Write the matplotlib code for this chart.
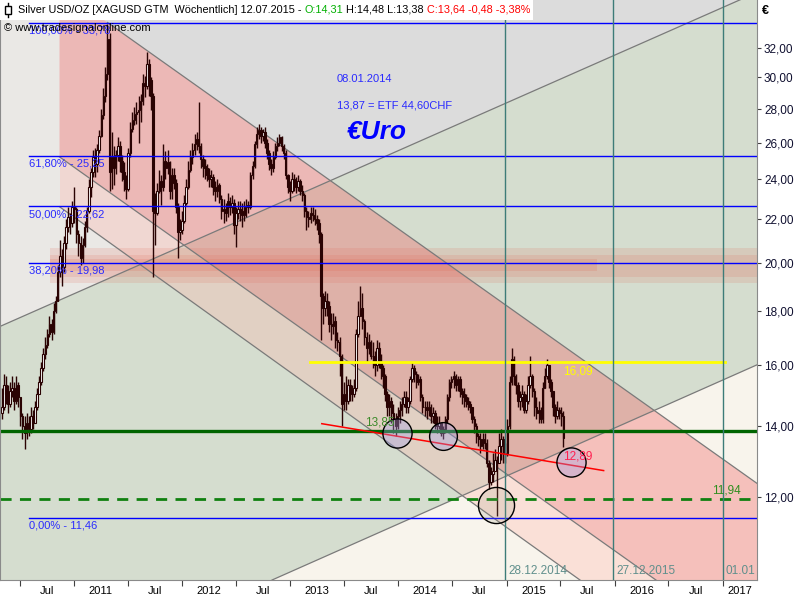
import numpy as np
import pandas as pd
import matplotlib
matplotlib.use('Agg')
import matplotlib.pyplot as plt
import matplotlib.dates as mdates
from matplotlib.patches import Rectangle
from matplotlib.lines import Line2D
from matplotlib.ticker import FuncFormatter, NullLocator, NullFormatter

plt.rcParams['font.family'] = ['Liberation Sans', 'DejaVu Sans']

# ---- weekly candles (EUR), first week 02.05.2010 ----
first_week = '2010-05-02'
first_open = 14.4

close_2010 = [14.6, 15.3, 15.0, 14.7, 15.1, 15.2, 14.8, 15.3, 14.9, 14.3, 14.0, 13.8, 14.1,
              13.9, 14.3, 14.1, 14.6, 15.0, 15.4, 15.9, 16.4, 16.7, 17.1, 17.5, 17.2, 18.0, 18.4,
              19.6, 20.3, 19.8, 20.9, 21.6, 22.1, 21.8, 22.6]
high_2010 = [15.2, 15.7, 15.6, 15.3, 15.4, 15.6, 15.4, 15.6, 15.4, 14.9, 14.4, 14.3, 14.4,
             14.3, 14.6, 14.5, 14.8, 15.2, 15.6, 16.1, 16.6, 17.0, 17.3, 17.8, 17.7, 18.3, 18.6,
             19.9, 21.0, 20.6, 21.2, 22.0, 22.6, 22.3, 22.9]
low_2010 = [14.2, 14.5, 14.7, 14.4, 14.6, 14.9, 14.5, 14.7, 14.6, 14.0, 13.6, 13.3, 13.6,
            13.7, 13.8, 13.9, 14.1, 14.5, 15.0, 15.3, 15.8, 16.2, 16.6, 17.0, 16.9, 17.1, 17.9,
            18.4, 19.4, 19.0, 19.6, 20.6, 21.4, 21.3, 21.6]

close_2011 = [22.5, 21.3, 20.9, 20.2, 20.8, 21.6, 22.4, 23.6, 24.4, 25.2, 24.8, 25.6, 26.4,
              27.6, 28.8, 30.2, 32.6, 24.4, 25.2, 24.6, 25.3, 25.8, 25.0, 24.4, 24.0, 23.5,
              25.4, 26.8, 27.3, 27.7, 27.8, 27.9, 28.5, 29.6, 29.4, 30.9, 29.8, 28.8, 22.4,
              22.3, 23.4, 23.9, 23.6, 25.0, 24.6, 24.9, 23.4, 24.2, 23.8, 22.6, 21.4, 21.5]
high_2011 = [23.6, 22.6, 21.5, 21.2, 21.1, 21.9, 22.6, 24.0, 24.6, 25.6, 25.7, 25.9, 26.7,
             28.0, 29.3, 30.7, 33.7, 33.0, 26.6, 25.8, 25.6, 26.3, 26.1, 25.3, 24.9, 24.2,
             25.7, 27.2, 27.8, 28.1, 28.4, 28.8, 28.9, 30.2, 30.1, 31.7, 31.2, 30.0, 29.0,
             23.3, 23.8, 24.5, 24.2, 25.9, 25.5, 25.6, 25.0, 24.6, 24.6, 24.0, 22.8, 22.0]
low_2011 = [21.8, 20.9, 20.3, 19.9, 20.0, 20.7, 21.4, 22.3, 23.1, 24.1, 24.1, 24.4, 25.4,
            26.3, 27.4, 28.4, 29.8, 23.4, 23.5, 23.7, 24.3, 25.0, 24.4, 23.9, 23.4, 23.0,
            23.4, 25.2, 26.6, 27.0, 27.1, 26.0, 27.2, 28.2, 28.7, 29.2, 28.8, 27.9, 19.4,
            20.8, 22.2, 23.3, 22.7, 23.4, 24.0, 24.3, 23.0, 23.0, 23.5, 22.3, 20.2, 21.0]

close_2012 = [21.9, 22.8, 23.6, 24.5, 25.2, 25.6, 25.9, 26.2, 25.8, 25.1, 24.7, 24.6, 24.2,
              24.0, 24.1, 23.6, 23.4, 23.7, 23.0, 22.4, 22.5, 22.3, 22.9, 22.6, 22.8, 21.7,
              22.3, 22.5, 22.4, 22.2, 22.6, 22.7, 22.6, 24.2, 24.7, 25.9, 26.5, 26.7, 26.4, 26.6,
              26.0, 25.4, 24.8, 24.6, 25.2, 25.8, 26.0, 26.3, 25.8, 25.4, 24.2, 23.6, 23.4]
high_2012 = [22.4, 23.2, 24.0, 25.0, 25.6, 26.0, 26.5, 26.6, 28.4, 26.0, 25.3, 25.1, 24.8,
             24.6, 24.5, 24.3, 23.9, 24.0, 23.8, 23.2, 23.0, 22.8, 23.3, 23.1, 23.2, 23.0,
             22.6, 22.9, 22.9, 22.8, 22.9, 23.0, 22.9, 24.4, 25.0, 26.1, 26.9, 27.1, 26.9, 26.8,
             26.9, 26.2, 25.6, 25.1, 25.5, 26.0, 26.3, 26.5, 26.4, 25.9, 25.6, 24.3, 23.9]
low_2012 = [21.3, 21.8, 22.7, 23.5, 24.4, 24.8, 25.3, 25.6, 25.4, 24.6, 24.1, 24.0, 23.9,
            23.6, 23.6, 23.2, 22.9, 23.1, 22.8, 22.0, 21.8, 21.9, 22.1, 22.2, 22.3, 21.3,
            20.7, 22.0, 21.9, 21.6, 21.9, 22.1, 22.3, 22.5, 24.0, 24.6, 25.7, 26.2, 26.0, 26.1,
            25.7, 25.1, 24.5, 24.2, 24.4, 25.1, 25.5, 25.8, 25.5, 25.1, 24.0, 23.3, 22.9]

close_2013 = [24.0, 23.8, 23.6, 23.9, 23.4, 23.2, 22.4, 22.1, 22.0, 22.3, 22.2, 22.0, 21.8,
              21.3, 18.6, 18.1, 18.4, 18.2, 17.5, 17.4, 17.6, 16.9, 16.8, 16.3, 14.7, 15.0,
              14.8, 15.3, 15.1, 15.0, 15.2, 17.1, 17.8, 18.1, 17.6, 17.0, 16.6, 16.8, 16.3,
              16.3, 16.0, 16.6, 16.1, 15.9, 15.6, 15.0, 14.6, 14.8, 14.4, 14.2, 14.0, 14.3]
high_2013 = [24.4, 24.3, 24.1, 24.2, 24.0, 23.7, 23.3, 22.6, 22.4, 22.6, 22.6, 22.5, 22.2,
             22.0, 21.4, 18.7, 18.8, 18.7, 18.4, 17.9, 17.9, 17.8, 17.2, 17.0, 16.4, 15.4,
             15.6, 15.5, 15.5, 15.3, 15.5, 17.3, 18.4, 19.0, 18.7, 17.7, 17.2, 17.1, 16.9,
             16.8, 16.5, 16.9, 16.8, 16.4, 16.0, 15.7, 15.1, 15.0, 14.9, 14.7, 14.4, 14.6]
low_2013 = [23.3, 23.4, 23.3, 23.4, 23.2, 22.9, 22.1, 21.5, 21.6, 21.8, 21.9, 21.7, 21.5,
            20.9, 16.9, 17.5, 17.8, 17.8, 17.2, 16.9, 17.1, 16.6, 16.5, 15.6, 14.0, 14.5,
            14.5, 14.7, 14.8, 14.8, 14.9, 15.1, 17.0, 17.8, 17.3, 16.7, 16.1, 16.4, 16.2,
            15.9, 15.6, 15.8, 15.9, 15.5, 15.2, 14.8, 14.3, 14.3, 14.1, 13.8, 13.7, 13.9]

close_2014 = [14.5, 14.7, 14.9, 14.6, 14.8, 15.5, 15.9, 15.7, 15.4, 15.5, 14.9, 14.6, 14.6,
              14.5, 14.6, 14.3, 14.4, 14.1, 14.0, 14.1, 13.8, 13.9, 14.2, 14.9, 15.4, 15.5,
              15.6, 15.3, 15.5, 15.1, 15.0, 14.9, 14.8, 14.7, 14.6, 14.2, 14.0, 13.7, 13.6,
              13.4, 13.6, 13.5, 12.9, 12.4, 12.6, 12.7, 13.0, 12.9, 13.4, 13.6, 13.2, 13.2]
high_2014 = [14.8, 14.9, 15.1, 15.1, 14.9, 15.6, 16.1, 16.0, 15.8, 15.7, 15.6, 15.0, 14.8,
             14.8, 14.8, 14.7, 14.6, 14.5, 14.3, 14.3, 14.1, 14.0, 14.3, 15.0, 15.5, 15.6,
             15.8, 15.7, 15.6, 15.6, 15.2, 15.2, 15.0, 14.9, 14.8, 14.6, 14.3, 14.1, 13.8,
             13.8, 13.8, 13.8, 13.6, 13.0, 12.8, 13.2, 13.3, 13.1, 13.8, 13.9, 13.7, 13.5]
low_2014 = [14.1, 14.3, 14.6, 14.4, 14.4, 14.7, 15.4, 15.4, 15.2, 15.3, 14.8, 14.4, 14.3,
            14.2, 14.3, 14.1, 14.1, 13.9, 13.8, 13.9, 13.7, 13.6, 13.8, 14.1, 14.8, 15.2,
            15.2, 15.1, 15.1, 14.9, 14.7, 14.6, 14.6, 14.5, 14.4, 14.1, 13.8, 13.5, 13.4,
            13.2, 13.3, 13.3, 12.8, 12.2, 12.3, 12.4, 12.7, 11.5, 12.9, 13.0, 12.9, 12.9]

close_2015 = [14.0, 15.4, 16.2, 15.6, 15.3, 14.8, 14.9, 15.0, 14.5, 14.8, 15.3, 15.6, 15.1,
              14.6, 14.4, 14.5, 14.2, 15.2, 15.6, 16.0, 15.4, 15.1, 14.6, 14.3, 14.5, 14.4,
              14.31, 13.64]
high_2015 = [14.2, 15.6, 16.6, 16.3, 15.7, 15.4, 15.1, 15.3, 15.1, 15.0, 15.6, 16.3, 15.7,
             15.2, 14.9, 14.8, 14.6, 15.4, 15.9, 16.2, 16.0, 15.5, 15.1, 14.7, 14.8, 14.6,
             14.6, 14.48]
low_2015 = [13.1, 13.9, 15.3, 15.3, 15.0, 14.6, 14.5, 14.6, 14.4, 14.4, 14.7, 15.2, 14.9,
            14.3, 14.2, 14.1, 14.1, 14.1, 15.2, 15.5, 15.2, 14.9, 14.3, 14.1, 14.2, 14.2,
            14.0, 13.38]

# ---- drawings on the chart (date, price) ----
x_range = ('2010-04-26', '2017-04-26')
y_range = (10.0, 35.5)
channel_start = '2010-11-13'
line_top = [('2011-04-24', 33.8), ('2017-04-26', 12.35)]
line_mid = [('2010-11-13', 25.2), ('2017-04-26', 8.55)]
line_low = [('2010-11-13', 22.6), ('2015-09-06', 10.0)]
rise_top = [('2010-04-26', 17.4), ('2017-04-26', 36.1)]
rise_low = [('2012-10-31', 10.0), ('2017-04-26', 16.0)]
red_support = [('2013-04-17', 14.07), ('2015-11-25', 12.70)]

band_start = '2010-10-12'
band_inner_end = '2015-11-01'
band_outer = (19.15, 20.67)
band_mid = (19.40, 20.36)
band_inner = (19.62, 20.14)

fib_start = '2010-08-02'
fib_levels = [33.78, 25.25, 22.62, 19.98, 11.46]
fib_labels = ['100,00% - 33,78', '61,80% - 25,25', '50,00% - 22,62', '38,20% - 19,98', '0,00% - 11,46']

support_level = 13.85
support_label_date = '2013-09-10'
target_level = 11.94
target_label_date = '2016-11-24'
resist_level = 16.09
resist_span = ('2013-03-08', '2017-01-08')
resist_label_date = '2015-07-10'
low_label = ('2015-07-10', 13.1, '12,89')

cycle_dates = ['2014-12-28', '2015-12-27', '2017-01-01']
cycle_labels = ['28.12.2014', '27.12.2015', '01.01']

circle_dates = ['2013-12-27', '2014-05-31', '2014-11-26', '2015-08-07']
circle_prices = [13.80, 13.71, 11.79, 12.95]

note_date = '2013-06-07'
notes = [(29.85, '08.01.2014'), (28.2, '13,87 = ETF 44,60CHF')]
euro_note = ('2013-07-10', 26.6, '€Uro')

y_ticks = [12, 14, 16, 18, 20, 22, 24, 26, 28, 30, 32]
x_labels = ['Jul', '2011', 'Jul', '2012', 'Jul', '2013', 'Jul', '2014',
            'Jul', '2015', 'Jul', '2016', 'Jul', '2017']

closes = np.array(close_2010 + close_2011 + close_2012 + close_2013 + close_2014 + close_2015)
highs = np.array(high_2010 + high_2011 + high_2012 + high_2013 + high_2014 + high_2015)
lows = np.array(low_2010 + low_2011 + low_2012 + low_2013 + low_2014 + low_2015)
weeks = mdates.date2num(pd.date_range(first_week, periods=len(closes), freq='7D'))
opens = np.concatenate([[first_open], closes[:-1]])

d2n = mdates.datestr2num


def trend(anchor, xs):
    (da, pa), (db, pb) = anchor
    xa, xb = d2n(da), d2n(db)
    k = (np.log(pb) - np.log(pa)) / (xb - xa)
    return np.exp(np.log(pa) + k * (np.asarray(xs) - xa))


fig = plt.figure(figsize=(8, 6), dpi=100)
ax = fig.add_axes([0.0, 20 / 600, 757 / 800, 580 / 600])
ax.set_yscale('log')
ax.xaxis_date()
x0, x1 = d2n(x_range[0]), d2n(x_range[1])
xs = np.array([x0, x1])
xc = np.array([d2n(channel_start), x1])

# background zones
ax.set_facecolor('#eae8e5')
ax.fill_between(xs, trend(line_top, xs), 1000, color='#dcdcdc', lw=0, zorder=0.1)
ax.fill_between(xs, trend(rise_low, xs), trend(rise_top, xs), color='#d5ddcf', lw=0, zorder=0.2)
ax.fill_between(xs, 1, trend(rise_low, xs), color='#f8f4ec', lw=0, zorder=0.3)
ax.fill_between(xc, trend(line_mid, xc), trend(line_top, xc), color='#f06161', alpha=0.35, lw=0, zorder=0.4)
ax.fill_between(xc, trend(line_low, xc), trend(line_mid, xc), color='#ffb2a8', alpha=0.3, lw=0, zorder=0.4)

# resistance band round 20
xb = np.array([d2n(band_start), x1])
xbi = np.array([d2n(band_start), d2n(band_inner_end)])
ax.fill_between(xb, band_outer[0], band_outer[1], color='#e06a58', alpha=0.16, lw=0, zorder=0.5)
ax.fill_between(xb, band_mid[0], band_mid[1], color='#e06a58', alpha=0.16, lw=0, zorder=0.5)
ax.fill_between(xbi, band_inner[0], band_inner[1], color='#e06a58', alpha=0.2, lw=0, zorder=0.5)

# trend lines
for anc, start in [(line_top, line_top[0][0]), (line_mid, channel_start), (line_low, channel_start),
                   (rise_top, x_range[0]), (rise_low, rise_low[0][0])]:
    lx = np.array([d2n(start), x1])
    ax.plot(lx, trend(anc, lx), color='#7a7a7a', lw=0.9, zorder=1)

# candles
dark = '#2a0303'
up = closes >= opens
lo_b = np.minimum(opens, closes)
hi_b = np.maximum(opens, closes)
ax.vlines(weeks, lows, highs, color=dark, lw=1.0, zorder=2)
ax.bar(weeks[up], hi_b[up] - lo_b[up], bottom=lo_b[up], width=5.0, color='white',
       edgecolor=dark, lw=0.8, zorder=2.1)
ax.bar(weeks[~up], hi_b[~up] - lo_b[~up], bottom=lo_b[~up], width=5.0, color=dark,
       edgecolor=dark, lw=0.8, zorder=2.1)

# horizontal levels
for lvl, lab in zip(fib_levels, fib_labels):
    ax.plot([d2n(fib_start), x1], [lvl, lvl], color='#0000ff', lw=1, zorder=2.5)
    ax.annotate(lab, (d2n(fib_start), lvl), xytext=(0, -2), textcoords='offset points',
                va='top', ha='left', fontsize=8, color='#2a2aff', zorder=6)

ax.axhline(support_level, color='#006400', lw=2.4, zorder=2.5)
ax.annotate(f'{support_level:.2f}'.replace('.', ','), (d2n(support_label_date), support_level),
            xytext=(0, 1.5), textcoords='offset points', va='bottom', fontsize=8.5, color='#3c8a2a', zorder=6)
ax.axhline(target_level, color='#108010', lw=2, ls=(0, (4, 3)), zorder=2.5)
ax.annotate(f'{target_level:.2f}'.replace('.', ','), (d2n(target_label_date), target_level),
            xytext=(0, 2), textcoords='offset points', va='bottom', fontsize=8.5, color='#2f8f1f', zorder=6)
ax.plot([d2n(resist_span[0]), d2n(resist_span[1])], [resist_level] * 2, color='#ffff00', lw=2, zorder=2.5)
ax.annotate(f'{resist_level:.2f}'.replace('.', ','), (d2n(resist_label_date), resist_level),
            xytext=(0, -2), textcoords='offset points', va='top', fontsize=8.5, color='#ffff00', zorder=6)

# red support line and circles
rx = np.array([d2n(red_support[0][0]), d2n(red_support[1][0])])
ax.plot(rx, trend(red_support, rx), color='#ff0000', lw=1.1, zorder=3)
circle_face = [(0.62, 0.62, 0.92, 0.35), (0.62, 0.62, 0.92, 0.35),
               (0.6, 0.6, 0.5, 0.18), (0.62, 0.62, 0.92, 0.35)]
circle_size = [21, 20, 26, 21]
for d, p, fc, ms in zip(circle_dates, circle_prices, circle_face, circle_size):
    ax.plot(d2n(d), p, 'o', ms=ms, mfc=fc, mec='black', mew=1, zorder=3.5)
ax.text(d2n(low_label[0]), low_label[1], low_label[2], va='center', fontsize=8.5,
        color='#ff2050', zorder=6)

# cycle lines
for d, lab in zip(cycle_dates, cycle_labels):
    ax.axvline(d2n(d), color='#3d7c78', lw=1, zorder=2.6)
    ax.text(d2n(d) + 10, 0.006, lab, transform=ax.get_xaxis_transform(), va='bottom',
            ha='left', fontsize=8.5, color='#5f8f8c', zorder=6)

# notes
for p, s in notes:
    ax.text(d2n(note_date), p, s, va='center', fontsize=8, color='#2a2aff', zorder=6)
ax.text(d2n(euro_note[0]), euro_note[1], euro_note[2], va='center', fontsize=19,
        fontweight='bold', fontstyle='italic', color='#0000ff', zorder=6)

# axes
ax.set_xlim(x0, x1)
ax.set_ylim(*y_range)
ax.yaxis.tick_right()
ax.set_yticks(y_ticks)
ax.yaxis.set_minor_locator(NullLocator())
ax.yaxis.set_minor_formatter(NullFormatter())
ax.yaxis.set_major_formatter(FuncFormatter(lambda v, _: f'{v:.2f}'.replace('.', ',')))
ax.tick_params(axis='y', direction='out', length=3, width=0.8, pad=2, labelsize=8.5,
               labelcolor='#101030', color='#404040')

bounds = mdates.date2num(pd.date_range('2010-07-01', '2017-01-01', freq='6MS'))
mids = (bounds + np.append(bounds[1:], x1)) / 2
ax.set_xticks(bounds)
ax.set_xticklabels([''] * len(bounds))
ax.set_xticks(mids, minor=True)
ax.set_xticklabels(x_labels, minor=True)
ax.tick_params(axis='x', which='major', direction='out', length=4, width=0.8, color='#404040')
ax.tick_params(axis='x', which='minor', length=0, pad=4, labelsize=8)

for side in ['left', 'bottom', 'right']:
    ax.spines[side].set_color('#8a8a8a')
ax.spines['top'].set_visible(False)

fig.text(762 / 800, 1 - 11 / 600, '€', fontsize=9, fontweight='bold', va='center')

# title bar
title_parts = [('Silver USD/OZ [XAGUSD GTM  Wöchentlich] 12.07.2015 - ', 'black'),
               ('O:14,31', '#00b000'), (' H:14,48 L:13,38 ', 'black'),
               ('C:13,64 -0,48 -3,38%', '#ff0000')]
fig.canvas.draw()
rend = fig.canvas.get_renderer()
tx = 18 / 800
ty = 1 - 10 / 600
for s, c in title_parts:
    t = fig.text(tx, ty, s, color=c, fontsize=7.8, va='center', ha='left', zorder=11)
    tx = t.get_window_extent(renderer=rend).x1 / fig.bbox.width
fig.add_artist(Rectangle((0, 1 - 20 / 600), tx + 3 / 800, 20 / 600, transform=fig.transFigure,
                         facecolor='white', edgecolor='none', zorder=10))
fig.add_artist(Line2D([7.5 / 800] * 2, [1 - 17 / 600, 1 - 3 / 600], transform=fig.transFigure,
                      color='black', lw=1, zorder=11))
fig.add_artist(Rectangle((4.5 / 800, 1 - 14 / 600), 6 / 800, 8 / 600, transform=fig.transFigure,
                         facecolor='white', edgecolor='black', lw=1, zorder=11))
fig.text(4 / 800, 1 - 28 / 600, '© www.tradesignalonline.com', fontsize=8, va='center', zorder=11)

fig.savefig('out.png', dpi=100)
